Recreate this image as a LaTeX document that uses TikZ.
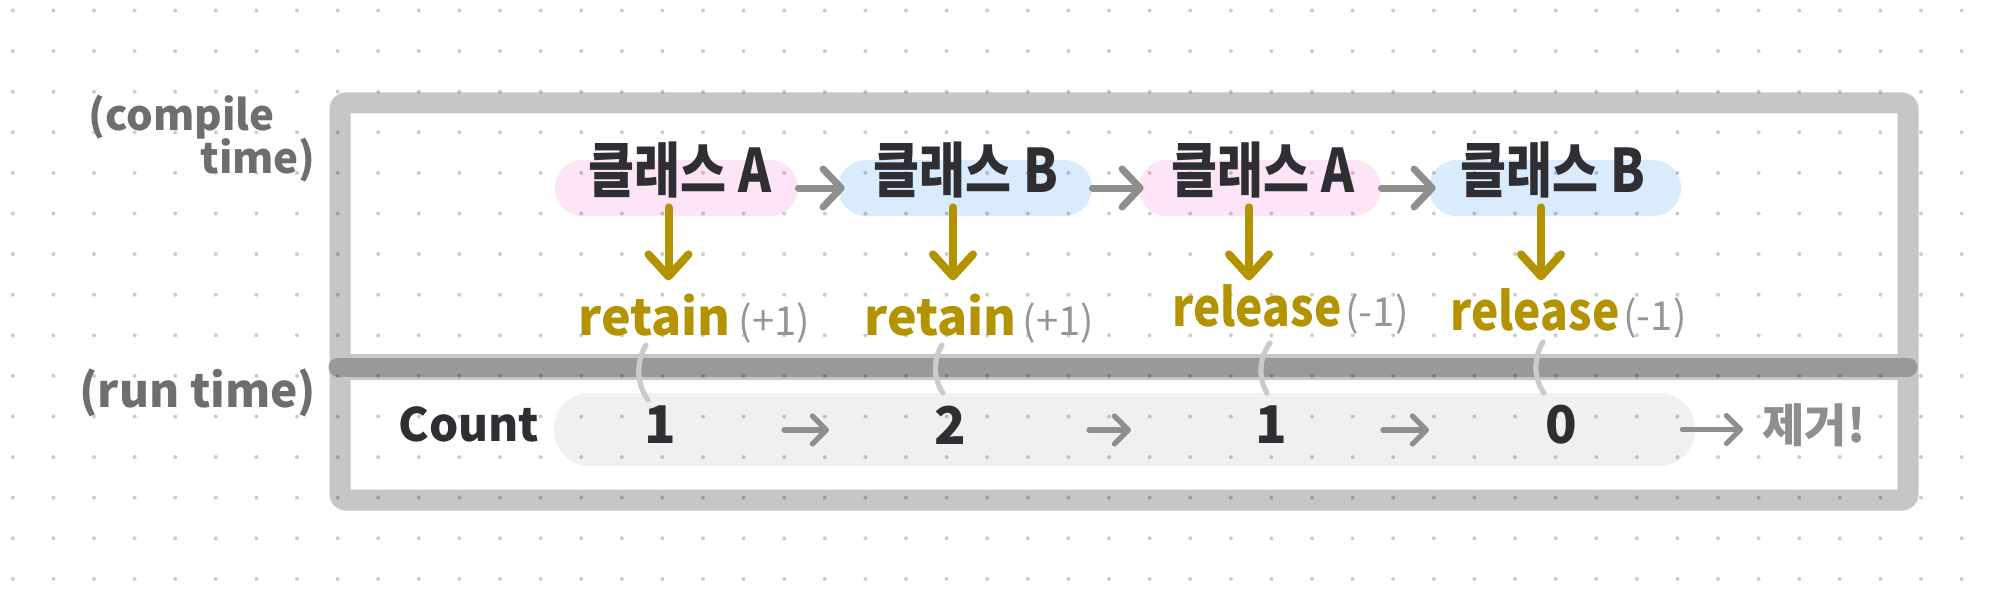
\documentclass[tikz,border=0pt]{standalone}
\usepackage{fontspec}
\newfontfamily\kr{Noto Sans CJK KR}
\usetikzlibrary{arrows.meta,calc}
\definecolor{framec}{HTML}{C6C6C6}
\definecolor{barc}{HTML}{999999}
\definecolor{pinkc}{HTML}{FDE4F6}
\definecolor{bluec}{HTML}{D9EBFC}
\definecolor{countc}{HTML}{F0F0F0}
\definecolor{goldc}{HTML}{B39300}
\definecolor{darkc}{HTML}{2E2E33}
\definecolor{arrowc}{HTML}{8E8E8E}
\definecolor{lightc}{HTML}{969696}
\definecolor{labelc}{HTML}{6E6E6E}
\definecolor{faintc}{HTML}{CBCBCB}
\begin{document}
\begin{tikzpicture}[x=0.5pt,y=-0.5pt,
  pill/.style={inner sep=0pt, minimum height=28pt, rounded corners=14pt},
  pinkpill/.style={pill, fill=pinkc},
  bluepill/.style={pill, fill=bluec},
  clsname/.style={inner sep=0pt, text=darkc, font=\kr\bfseries\fontsize{25}{25}\selectfont},
  lab/.style={inner sep=0pt, anchor=base west, font=\kr\bfseries\fontsize{25}{25}\selectfont},
  num/.style={inner sep=0pt, text=darkc, font=\kr\bfseries\fontsize{26}{26}\selectfont},
  sidelab/.style={inner sep=0pt, anchor=base west, text=labelc, font=\kr\bfseries\fontsize{21}{21}\selectfont},
  grayarr/.style={draw=arrowc, line width=3.5pt, line cap=round, -{Straight Barb[length=9pt,width=19pt,round]}},
  smallarr/.style={draw=arrowc, line width=2.6pt, line cap=round, -{Straight Barb[length=7pt,width=14pt,round]}},
  goldarr/.style={draw=goldc, line width=4pt, line cap=round, -{Straight Barb[length=11pt,width=20pt,round]}},
  faint/.style={draw=faintc, line width=2.6pt, line cap=round}
]
\useasboundingbox (0,0) rectangle (2000,599);
\fill[white] (0,0) rectangle (2000,599);

% frame
\draw[framec, line width=10.5pt, rounded corners=3pt] (340,103) rectangle (1908,500);
\draw[framec, line width=13pt] (340,367) -- (1908,367);
\draw[barc, line width=9.5pt, line cap=round] (338,367) -- (1908,367);

% pills
\node[pinkpill, minimum width=121.5pt] (p1) at (676.5,188) {};
\node[bluepill, minimum width=127pt] (p2) at (965,188) {};
\node[pinkpill, minimum width=121pt] (p3) at (1260,188) {};
\node[bluepill, minimum width=126pt] (p4) at (1555,188) {};
\node[pill, fill=countc, minimum width=570.5pt, minimum height=36.5pt, rounded corners=18pt] (cnt) at (1124.5,429.5) {};

% dot grid
\foreach \i in {0,...,48}{
  \foreach \j in {0,...,14}{
    \fill[black, opacity=0.2] (12.8+40.6*\i, 10.5+40.6*\j) circle (1pt);
  }
}

% class names
\node[clsname] (t1) at (680,170) {\scalebox{1}[1.2]{클래스 A}};
\node[clsname] (t2) at (966,170) {\scalebox{1}[1.2]{클래스 B}};
\node[clsname] (t3) at (1263,170) {\scalebox{1}[1.2]{클래스 A}};
\node[clsname] (t4) at (1553,170) {\scalebox{1}[1.2]{클래스 B}};

% labels
\node[lab] (r1) at (578,335) {\textcolor{goldc}{retain}\hspace{4pt}{\mdseries\fontsize{20}{20}\selectfont\textcolor{lightc}{(+1)}}};
\node[lab] (r2) at (864,335) {\textcolor{goldc}{retain}\hspace{3pt}{\mdseries\fontsize{20}{20}\selectfont\textcolor{lightc}{(+1)}}};
\node[lab] (r3) at (1172,326) {\textcolor{goldc}{\scalebox{0.92}[1.05]{release}}\hspace{2pt}{\mdseries\fontsize{20}{20}\selectfont\textcolor{lightc}{(-1)}}};
\node[lab] (r4) at (1450,330) {\textcolor{goldc}{\scalebox{0.92}[1.05]{release}}\hspace{2pt}{\mdseries\fontsize{20}{20}\selectfont\textcolor{lightc}{(-1)}}};

% side labels
\node[sidelab] (ct1) at (88,130) {(compile};
\node[sidelab] (ct2) at (200,173) {time)};
\node[sidelab, font=\kr\bfseries\fontsize{23}{23}\selectfont] (rt) at (79,407) {(run time)};

% count row
\node[inner sep=0pt, text=darkc, font=\kr\bfseries\fontsize{23}{23}\selectfont] (cl) at (469,424) {Count};
\node[num] (n1) at (660,425) {1};
\node[num] (n2) at (950,425) {2};
\node[num] (n3) at (1271,425) {1};
\node[num] (n4) at (1561,425) {0};
\node[inner sep=0pt, anchor=west, text=arrowc, font=\kr\bfseries\fontsize{23}{23}\selectfont] (del) at (1762,425) {제거!};

% faint links
\coordinate (c1t) at (646,345); \coordinate (c1b) at (648,400);
\coordinate (c2t) at (942,345); \coordinate (c2b) at (943,393);
\coordinate (c3t) at (1270,343); \coordinate (c3b) at (1267,393);
\coordinate (c4t) at (1543,342); \coordinate (c4b) at (1544,393);
\draw[faint] (c1t) .. controls (636,362) and (636,383) .. (c1b);
\draw[faint] (c2t) .. controls (933,360) and (933,378) .. (c2b);
\draw[faint] (c3t) .. controls (1259,358) and (1258,378) .. (c3b);
\draw[faint] (c4t) .. controls (1534,357) and (1533,378) .. (c4b);

% arrows
\draw[grayarr] (p1.east) -- ($(p2.west)+(7,0)$);
\draw[grayarr] (p2.east) -- ($(p3.west)+(5,0)$);
\draw[grayarr] (p3.east) -- ($(p4.west)+(7,0)$);

\draw[goldarr] ($(p1.south)+(-8,-9)$) -- ($(p1.south)+(-8,64)$);
\draw[goldarr] ($(p2.south)+(-12,-9)$) -- ($(p2.south)+(-12,64)$);
\draw[goldarr] ($(p3.south)+(-11,-9)$) -- ($(p3.south)+(-11,64)$);
\draw[goldarr] ($(p4.south)+(-14,-9)$) -- ($(p4.south)+(-14,64)$);

\draw[smallarr] ($(n1)+(124,5)$) -- ($(n1)+(169,5)$);
\draw[smallarr] ($(n2)+(139,5)$) -- ($(n2)+(181,5)$);
\draw[smallarr] ($(n3)+(112,5)$) -- ($(n3)+(158,5)$);
\draw[smallarr] ($(cnt.east)+(-13,0)$) -- ($(del.west)+(-19,4.5)$);
\end{tikzpicture}
\end{document}
